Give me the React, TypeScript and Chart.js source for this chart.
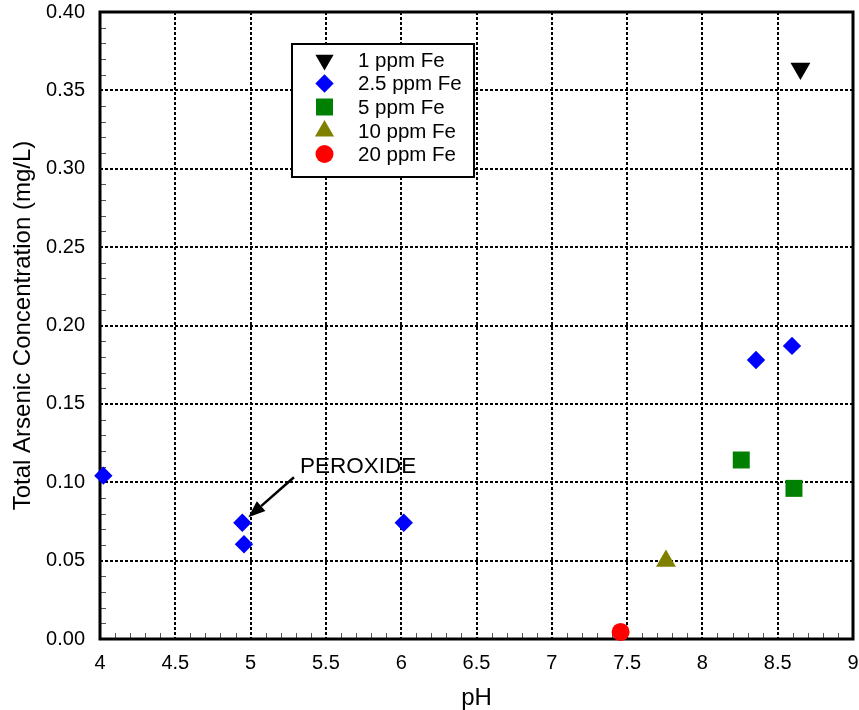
import React, { useEffect, useRef } from 'react';
import { Chart, registerables } from 'chart.js';
import { drawPoint } from 'chart.js/helpers';

Chart.register(...registerables);

const FONT = "'Liberation Sans', Arial, sans-serif";

// ---- data ----
const seriesNames = ['1 ppm Fe', '2.5 ppm Fe', '5 ppm Fe', '10 ppm Fe', '20 ppm Fe'];

const fe1pH = [8.651];
const fe1As = [0.364];

const fe25pH = [4.022, 4.945, 4.956, 6.017, 8.356, 8.595];
const fe25As = [0.1042, 0.0742, 0.0604, 0.0742, 0.178, 0.187];

const fe5pH = [8.258, 8.608];
const fe5As = [0.1142, 0.0961];

const fe10pH = [7.758];
const fe10As = [0.0498];

const fe20pH = [7.457];
const fe20As = [0.0045];

const xTickLabels = ['4', '4.5', '5', '5.5', '6', '6.5', '7', '7.5', '8', '8.5', '9'];
const yTickLabels = ['0.00', '0.05', '0.10', '0.15', '0.20', '0.25', '0.30', '0.35', '0.40'];

const annotationText = 'PEROXIDE';
const annotationTextAt = [5.328, 0.1099];
const arrowFrom = [5.288, 0.1032];
const arrowTo = [4.985, 0.0776];

const toPoints = (xs: number[], ys: number[]) => xs.map((x, i) => ({ x, y: ys[i] }));

const zeroPad = (s: any) => {
  s.paddingTop = 0;
  s.paddingBottom = 0;
  s.paddingLeft = 0;
  s.paddingRight = 0;
};

const framePlugin = {
  id: 'frame',
  beforeDatasetsDraw(chart: any) {
    const { ctx, chartArea: a, scales } = chart;
    const xs = scales.x;
    const ys = scales.y;
    ctx.save();
    // minor ticks
    ctx.strokeStyle = '#555';
    ctx.lineWidth = 1;
    ctx.beginPath();
    for (let k = 40; k <= 90; k++) {
      if (k % 5 === 0) continue;
      const px = Math.round(xs.getPixelForValue(k / 10)) + 0.5;
      ctx.moveTo(px, a.bottom);
      ctx.lineTo(px, a.bottom - 6);
    }
    for (let k = 0; k <= 40; k++) {
      if (k % 5 === 0) continue;
      const py = Math.round(ys.getPixelForValue(k / 100)) + 0.5;
      ctx.moveTo(a.left, py);
      ctx.lineTo(a.left + 6, py);
    }
    ctx.stroke();
    // frame
    ctx.strokeStyle = '#000';
    ctx.lineWidth = 3;
    ctx.strokeRect(a.left, a.top, a.right - a.left, a.bottom - a.top);
    ctx.restore();
  },
  afterDatasetsDraw(chart: any) {
    const { ctx, scales } = chart;
    const xs = scales.x;
    const ys = scales.y;
    ctx.save();
    // annotation
    ctx.fillStyle = '#000';
    ctx.font = `22.5px ${FONT}`;
    ctx.textAlign = 'left';
    ctx.textBaseline = 'middle';
    ctx.fillText(annotationText, xs.getPixelForValue(annotationTextAt[0]), ys.getPixelForValue(annotationTextAt[1]));
    const x1 = xs.getPixelForValue(arrowFrom[0]);
    const y1 = ys.getPixelForValue(arrowFrom[1]);
    const x2 = xs.getPixelForValue(arrowTo[0]);
    const y2 = ys.getPixelForValue(arrowTo[1]);
    const ang = Math.atan2(y2 - y1, x2 - x1);
    const headLen = 17;
    const headW = 6.5;
    const bx = x2 - Math.cos(ang) * headLen;
    const by = y2 - Math.sin(ang) * headLen;
    ctx.strokeStyle = '#000';
    ctx.lineWidth = 2.5;
    ctx.beginPath();
    ctx.moveTo(x1, y1);
    ctx.lineTo(bx, by);
    ctx.stroke();
    ctx.beginPath();
    ctx.moveTo(x2, y2);
    ctx.lineTo(bx + Math.sin(ang) * headW, by - Math.cos(ang) * headW);
    ctx.lineTo(bx - Math.sin(ang) * headW, by + Math.cos(ang) * headW);
    ctx.closePath();
    ctx.fill();

    // legend
    const L = 292, T = 44, R = 474, B = 177;
    ctx.fillStyle = '#fff';
    ctx.fillRect(L, T, R - L, B - T);
    ctx.strokeStyle = '#000';
    ctx.lineWidth = 2;
    ctx.strokeRect(L, T, R - L, B - T);
    const rows = [60, 83.5, 107, 131, 154];
    const markerX = 324.5;
    const textX = 358;
    chart.data.datasets.forEach((ds: any, i: number) => {
      const y = rows[i];
      ctx.fillStyle = ds.backgroundColor;
      drawPoint(ctx, { pointStyle: ds.pointStyle, radius: ds.legendRadius, rotation: ds.pointRotation || 0, borderWidth: 0 } as any, markerX, y);
      ctx.fillStyle = '#000';
      ctx.font = `20.5px ${FONT}`;
      ctx.textAlign = 'left';
      ctx.textBaseline = 'middle';
      ctx.fillText(ds.label, textX, y + 1);
    });
    ctx.restore();
  },
};

export default function App() {
  const ref = useRef<HTMLCanvasElement>(null);
  useEffect(() => {
    const canvas = ref.current!;
    const datasets: any[] = [
      { label: seriesNames[0], data: toPoints(fe1pH, fe1As), pointStyle: 'triangle', pointRotation: 180, pointRadius: 11.5, legendRadius: 10.5, backgroundColor: '#000000', borderColor: '#000000' },
      { label: seriesNames[1], data: toPoints(fe25pH, fe25As), pointStyle: 'rectRot', pointRadius: 9.2, legendRadius: 9.2, backgroundColor: '#0000ff', borderColor: '#0000ff' },
      { label: seriesNames[2], data: toPoints(fe5pH, fe5As), pointStyle: 'rect', pointRadius: 12, legendRadius: 12, backgroundColor: '#008000', borderColor: '#008000' },
      { label: seriesNames[3], data: toPoints(fe10pH, fe10As), pointStyle: 'triangle', pointRotation: 0, pointRadius: 11.5, legendRadius: 11, backgroundColor: '#808000', borderColor: '#808000' },
      { label: seriesNames[4], data: toPoints(fe20pH, fe20As), pointStyle: 'circle', pointRadius: 9, legendRadius: 9, backgroundColor: '#ff0000', borderColor: '#ff0000' },
    ].map((d) => ({ ...d, borderWidth: 0, pointBorderWidth: 0, pointHoverRadius: d.pointRadius, clip: false }));

    const tickFont = { family: FONT, size: 20 };
    const chart = new Chart(canvas, {
      type: 'scatter',
      data: { datasets },
      options: {
        responsive: false,
        animation: false,
        events: [],
        layout: { autoPadding: false, padding: { left: 0, top: 12, right: 6, bottom: 0 } },
        plugins: { legend: { display: false }, tooltip: { enabled: false } },
        scales: {
          x: {
            type: 'linear',
            min: 4,
            max: 9,
            afterFit(s: any) { s.height = 71; zeroPad(s); },
            ticks: {
              stepSize: 0.5,
              padding: 12,
              color: '#000',
              font: tickFont,
              maxRotation: 0,
              autoSkip: false,
              callback: (_v: any, i: number) => xTickLabels[i],
            },
            grid: { color: '#000', lineWidth: 2, drawTicks: false },
            border: { display: false, dash: [3, 2] },
            title: { display: true, text: 'pH', color: '#000', font: { family: FONT, size: 24, lineHeight: 1 }, padding: { top: 0, bottom: 0 } },
          },
          y: {
            type: 'linear',
            min: 0,
            max: 0.4,
            afterFit(s: any) { s.width = 100; zeroPad(s); },
            ticks: {
              stepSize: 0.05,
              padding: 15,
              color: '#000',
              font: tickFont,
              autoSkip: false,
              callback: (_v: any, i: number) => yTickLabels[i],
            },
            grid: { color: '#000', lineWidth: 2, drawTicks: false },
            border: { display: false, dash: [3, 2] },
            title: { display: true, text: 'Total Arsenic Concentration (mg/L)', color: '#000', font: { family: FONT, size: 24, lineHeight: 1 }, padding: { top: 11, bottom: 0 } },
          },
        },
      } as any,
      plugins: [framePlugin],
    });
    return () => chart.destroy();
  }, []);
  return (
    <div style={{ position: 'absolute', left: 0, top: 0, width: 859, height: 710, background: '#fff' }}>
      <canvas ref={ref} width={859} height={710} style={{ display: 'block' }} />
    </div>
  );
}
